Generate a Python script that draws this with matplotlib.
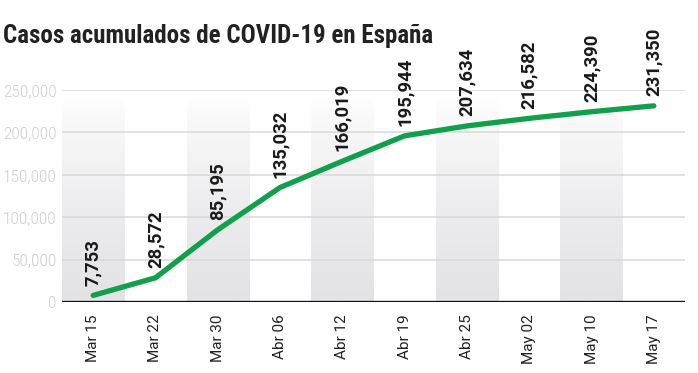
import numpy as np
import matplotlib
matplotlib.use('Agg')
import matplotlib.pyplot as plt
from matplotlib.colors import LinearSegmentedColormap
from matplotlib.ticker import FuncFormatter

# Data
dates = ['Mar 15', 'Mar 22', 'Mar 30', 'Abr 06', 'Abr 12',
         'Abr 19', 'Abr 25', 'May 02', 'May 10', 'May 17']
cases = [7753, 28572, 85195, 135032, 166019, 195944, 207634, 216582, 224390, 231350]
yticks = [0, 50000, 100000, 150000, 200000, 250000]

COND = ['Roboto Condensed', 'Barlow Condensed', 'DejaVu Sans']
REG = ['Roboto', 'DejaVu Sans']
GREEN = '#109f4b'

fig = plt.figure(figsize=(6.98, 3.73), dpi=100)
ax = fig.add_axes([62 / 698, 1 - 302 / 373, 623 / 698, 212 / 373])

x = np.arange(len(dates))

# alternating gradient bands (white at top, grey at bottom)
band_cmap = LinearSegmentedColormap.from_list('band', ['#ffffff', '#e3e3e6'])
grad = np.linspace(0, 1, 200).reshape(-1, 1) ** 0.7
for i in x[::2]:
    ax.imshow(grad, cmap=band_cmap, vmin=0, vmax=1, aspect='auto',
              extent=[i - 0.5, i + 0.5, 0, 240000], zorder=0, interpolation='bilinear')

# gridlines
for yv in yticks[1:]:
    ax.axhline(yv, color='#d8d8d8', linewidth=1.1, zorder=1)
ax.axhline(0, color='#111111', linewidth=2.4, zorder=4)

ax.plot(x, cases, color=GREEN, linewidth=3.8, solid_capstyle='round',
        solid_joinstyle='round', zorder=3)

for xi, v in zip(x, cases):
    ax.annotate(f'{v:,}', (xi, v), xytext=(0, 7), textcoords='offset points',
                rotation=90, ha='center', va='bottom', fontsize=13.3,
                fontweight='bold', family=REG, color='#1a1a1a', annotation_clip=False)

ax.set_xlim(-0.5, len(dates) - 0.5)
ax.set_ylim(0, 250000)
ax.set_xticks(x)
ax.set_xticklabels(dates, rotation=90, family=REG, fontsize=11, color='#222222')
ax.set_yticks(yticks)
ax.yaxis.set_major_formatter(FuncFormatter(lambda v, p: f'{int(v):,}'))
for lbl in ax.get_yticklabels():
    lbl.set_family(COND)
    lbl.set_fontweight('light')
    lbl.set_fontsize(12.5)
    lbl.set_color('#cdcdcd')
ax.tick_params(axis='both', length=0)
ax.tick_params(axis='x', pad=9)
ax.tick_params(axis='y', pad=4)
for s in ax.spines.values():
    s.set_visible(False)

fig.text(3 / 698, 1 - 43 / 373, 'Casos acumulados de COVID-19 en España',
         family=COND, fontweight='bold', fontsize=18, color='#222222', va='baseline')

fig.savefig('out.png', dpi=100)
